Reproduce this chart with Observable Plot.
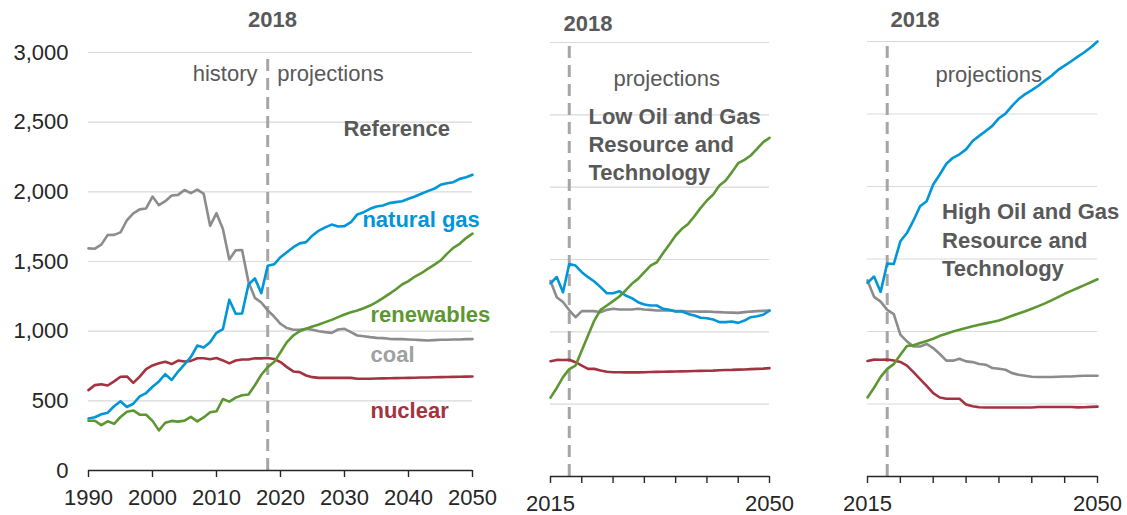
<!DOCTYPE html>
<html><head><meta charset="utf-8">
<script src="https://cdn.jsdelivr.net/npm/d3@7"></script>
<script src="https://cdn.jsdelivr.net/npm/@observablehq/plot@0.6"></script>
<style>
html,body{margin:0;padding:0;background:#fff;}
#chart{position:relative;width:1127px;height:515px;overflow:hidden;font-family:"Liberation Sans",Arial,sans-serif;}
#chart svg{position:absolute;top:0;}
</style></head><body><div id="chart"></div>
<script>
// ---------- data ----------
const refYears = d3.range(1990, 2051);
const altYears = d3.range(2015, 2051);
const yTicks = [0, 500, 1000, 1500, 2000, 2500, 3000];
const refXTicks = [1990, 2000, 2010, 2020, 2030, 2040, 2050];
const altXTicks = [2015, 2020, 2025, 2030, 2035, 2040, 2045, 2050];
const altXLabels = [2015, 2050];
const dividerYear = 2018;

const seriesNames = ["coal", "nuclear", "natural gas", "renewables"];
const seriesColors = ["#8c8c8c", "#a33340", "#0096d7", "#5d9732"];

const refCoal = [1594,1592,1621,1690,1691,1709,1796,1845,1874,1881,1966,1904,1933,1974,1978,2013,1991,2016,1986,1756,1847,1733,1514,1581,1582,1352,1239,1206,1149,
  1105,1053,1022,1010,1010,1017,1010,1000,993,988,1012,1017,993,969,964,957,952,950,945,943,943,940,938,936,933,936,938,938,940,940,943,943];
const refGas = [373,382,404,415,461,497,456,479,532,556,601,639,691,650,710,761,816,897,883,921,988,1014,1226,1125,1127,1335,1379,1273,1469,
  1480,1531,1567,1603,1630,1639,1687,1722,1745,1765,1751,1754,1782,1838,1854,1878,1895,1902,1919,1926,1933,1950,1967,1986,2005,2022,2050,2062,2069,2093,2105,2122];
const refNuclear = [577,613,619,610,640,673,675,629,674,728,754,769,780,764,789,782,787,806,806,799,807,790,769,789,797,797,806,805,807,
  800,778,742,711,706,682,670,665,665,665,665,665,665,658,658,659,660,661,662,663,664,665,666,667,668,669,670,671,672,673,674,675];
const refRenew = [357,357,326,353,335,384,422,431,401,400,356,288,343,356,351,358,385,353,381,418,425,513,494,523,540,545,612,687,742,
  778,849,921,969,1000,1017,1034,1048,1065,1081,1101,1120,1136,1148,1165,1184,1208,1237,1268,1299,1335,1359,1392,1416,1447,1476,1507,1555,1598,1627,1668,1700];

const lowGas = [1335,1379,1273,1469,1458,1412,1378,1348,1309,1267,1267,1281,1251,1233,1205,1189,1182,1182,1159,1152,1141,1141,1124,1113,1097,1094,1085,1067,1067,1071,1062,1078,1101,1108,1118,1147];
const lowCoal = [1352,1239,1206,1149,1101,1143,1143,1143,1136,1152,1159,1154,1154,1154,1159,1154,1152,1147,1147,1147,1143,1143,1141,1141,1140,1141,1138,1136,1134,1133,1131,1136,1140,1143,1145,1147];
const lowRenew = [545,612,687,742,767,871,975,1078,1152,1182,1212,1244,1286,1332,1366,1412,1458,1481,1545,1604,1666,1712,1746,1799,1857,1908,1949,2011,2046,2104,2166,2189,2219,2265,2311,2341];
const lowNuclear = [797,806,805,807,790,767,744,744,733,724,721,721,720,720,720,721,722,723,724,725,726,727,728,729,730,731,732,734,736,737,739,740,742,744,746,749];

const highGas = [1335,1379,1273,1469,1465,1622,1679,1766,1864,1898,2014,2083,2157,2198,2222,2256,2314,2349,2383,2418,2471,2503,2556,2603,2637,2665,2695,2730,2764,2804,2834,2864,2896,2926,2961,3000];
const highCoal = [1352,1239,1206,1149,1120,978,932,897,897,914,886,845,799,799,812,794,789,776,771,748,743,736,713,702,695,688,686,686,686,688,690,690,693,695,695,695];
const highRenew = [545,612,687,742,775,840,900,905,920,935,950,970,985,1000,1012,1024,1036,1046,1056,1065,1076,1092,1108,1124,1140,1157,1175,1194,1215,1237,1260,1280,1300,1320,1340,1360];
const highNuclear = [797,806,805,807,800,790,765,720,672,625,575,545,536,536,536,497,485,478,476,476,476,476,476,476,476,476,479,479,479,479,479,479,477,478,480,482];

// ---------- drawing ----------
const chart = document.getElementById("chart");
const FONT = '"Liberation Sans", Arial, sans-serif';
const GRAY_TXT = "#595959";

function panel(cfg) {
  const rows = [];
  cfg.series.forEach(([name, vals]) => vals.forEach((v, i) => rows.push({year: cfg.years[i], value: v, series: name})));
  const marks = [
    Plot.ruleY(yTicks.filter(d => d > 0), {stroke: "#d9d9d9", strokeWidth: 1.2}),
    Plot.ruleX([dividerYear], {y1: 0, y2: 3000, stroke: "#a6a6a6", strokeWidth: 3, strokeDasharray: "12,7"}),
    Plot.line(rows, {x: "year", y: "value", z: "series", stroke: "series", strokeWidth: 2.6, strokeLinejoin: "round", strokeLinecap: "round"}),
    Plot.ruleY([0], {stroke: "#262626", strokeWidth: 1.6}),
    Plot.axisX({ticks: cfg.xTicks, tickFormat: cfg.xFormat, tickSize: 7, tickPadding: 12, fontSize: 22, stroke: "#262626", fill: "#262626", strokeWidth: 1.4})
  ];
  if (cfg.yAxis) {
    marks.push(Plot.axisY({ticks: yTicks, tickFormat: d3.format(","), tickSize: 0, tickPadding: 20, fontSize: 22, fill: "#262626"}));
  }
  cfg.texts.forEach(t => marks.push(Plot.text([t], {
    x: "x", y: "y", text: "text", fill: t.fill || GRAY_TXT, fontSize: 22,
    fontWeight: t.bold ? "bold" : "normal", textAnchor: t.anchor || "start",
    lineAnchor: "middle", lineHeight: 1.28
  })));
  const svg = Plot.plot({
    width: cfg.width, height: 515,
    marginLeft: cfg.marginLeft, marginRight: cfg.marginRight,
    marginTop: cfg.marginTop, marginBottom: cfg.marginBottom,
    x: {domain: cfg.xDomain},
    y: {domain: [0, 3000], axis: null},
    color: {domain: seriesNames, range: seriesColors},
    style: {background: "transparent", overflow: "visible", fontFamily: FONT},
    marks
  });
  svg.style.left = cfg.left + "px";
  chart.appendChild(svg);
}

panel({
  left: 0, width: 500, marginLeft: 88, marginRight: 28, marginTop: 52, marginBottom: 45,
  xDomain: [1990, 2050], years: refYears, yAxis: true,
  xTicks: refXTicks, xFormat: d => String(d),
  series: [["coal", refCoal], ["nuclear", refNuclear], ["natural gas", refGas], ["renewables", refRenew]],
  texts: [
    {x: 2018.75, y: 3251, text: "2018", bold: true, anchor: "middle"},
    {x: 2016.4, y: 2857, text: "history", anchor: "end"},
    {x: 2019.5, y: 2857, text: "projections"},
    {x: 2029.84, y: 2469, text: "Reference", bold: true},
    {x: 2032.8, y: 1809, text: "natural gas", bold: true, fill: "#0096d7"},
    {x: 2034.06, y: 1134, text: "renewables", bold: true, fill: "#5d9732"},
    {x: 2034.06, y: 847, text: "coal", bold: true, fill: "#a0a0a0"},
    {x: 2034.06, y: 438, text: "nuclear", bold: true, fill: "#a33340"}
  ]
});

panel({
  left: 520, width: 279, marginLeft: 30, marginRight: 30, marginTop: 42, marginBottom: 39,
  xDomain: [2015, 2050], years: altYears, yAxis: false,
  xTicks: altXTicks, xFormat: d => altXLabels.includes(d) ? String(d) : "",
  series: [["coal", lowCoal], ["nuclear", lowNuclear], ["natural gas", lowGas], ["renewables", lowRenew]],
  texts: [
    {x: 2017.08, y: 3145, text: "2018", bold: true},
    {x: 2025.07, y: 2761, text: "projections"},
    {x: 2021.07, y: 2305, text: "Low Oil and Gas\nResource and\nTechnology", bold: true}
  ]
});

panel({
  left: 840, width: 287, marginLeft: 27, marginRight: 30, marginTop: 41, marginBottom: 39,
  xDomain: [2015, 2050], years: altYears, yAxis: false,
  xTicks: altXTicks, xFormat: d => altXLabels.includes(d) ? String(d) : "",
  series: [["coal", highCoal], ["nuclear", highNuclear], ["natural gas", highGas], ["renewables", highRenew]],
  texts: [
    {x: 2018.5, y: 3162, text: "2018", bold: true},
    {x: 2025.35, y: 2786, text: "projections"},
    {x: 2026.34, y: 1641, text: "High Oil and Gas\nResource and\nTechnology", bold: true}
  ]
});
</script></body></html>
